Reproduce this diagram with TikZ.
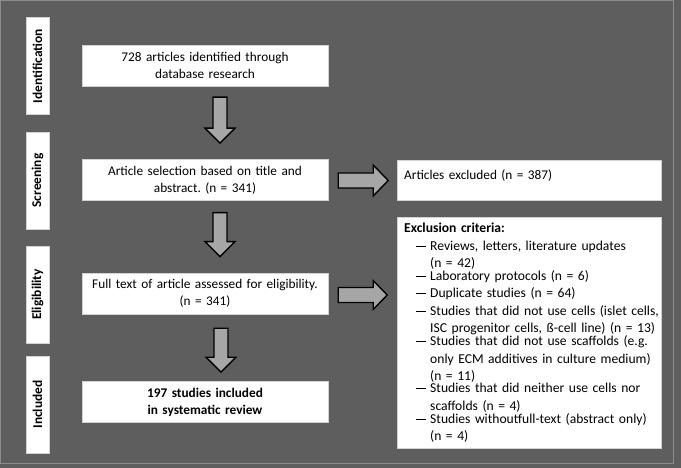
\documentclass[tikz,border=0pt]{standalone}
\usepackage{fontspec}
\setmainfont{Carlito}
\definecolor{bggray}{HTML}{5E5E5E}
\definecolor{arrowgray}{HTML}{A6A6A6}
\definecolor{framegray}{HTML}{8C8C8C}
\tikzset{
  stage/.style={draw=gray!35, fill=white, rotate=90,
    font=\fontsize{13.4}{16}\selectfont\bfseries,
    minimum width=97, minimum height=23, inner sep=0pt},
  stepbox/.style={draw=gray!35, fill=white, align=center, text width=240,
    minimum width=246, minimum height=41, inner sep=0pt},
  sidebox/.style={draw=gray!35, fill=white, align=left, text width=250,
    inner xsep=7, anchor=north west},
  blockarrow/.style={draw=black, fill=arrowgray, line width=1.4pt, line join=miter}
}
\newcommand{\critem}[1]{\par\noindent\hspace*{12pt}\makebox[14pt][l]{\rule[3.6pt]{9.5pt}{0.9pt}}\parbox[t]{236pt}{\raggedright#1}}
\begin{document}
\begin{tikzpicture}[x=1pt, y=-1pt, font=\fontsize{13.3}{17}\selectfont\frenchspacing, text=black]
  \useasboundingbox (0,0) rectangle (681,468);
  \fill[bggray] (0,0) rectangle (681,468);
  \draw[framegray, line width=0.6pt] (0.5,0.5) rectangle (673,463);

  % stages
  \node[stage] (ident) at (37.5,66) {Identification};
  \node[stage] (screen) at (37.5,180.5) {Screening};
  \node[stage] (elig) at (37.5,294.5) {Eligibility};
  \node[stage] (incl) at (37.5,404.5) {Included};

  % flow
  \node[stepbox] (found) at (205,65.5) {728 articles identified through\\database research};
  \node[stepbox] (select) at (205,180) {Article selection based on title and\\abstract. (n = 341)};
  \node[stepbox] (fulltext) at (205,293.5) {Full text of article assessed for eligibility.\\(n = 341)};
  \node[stepbox, font=\fontsize{13.3}{17}\selectfont\bfseries] (included) at (205,402) {197 studies included\\in systematic review};

  % exclusions
  \node[sidebox, minimum width=264, minimum height=40, inner ysep=4,
    text height=15, text depth=17] (excluded) at (397,160) {Articles excluded (n = 387)};
  \node[sidebox, inner ysep=6, font=\fontsize{13.6}{17.4}\selectfont\frenchspacing] (criteria) at (397,217) {%
    \textbf{Exclusion criteria:}
    \critem{Reviews, letters, literature updates\\(n = 42)}
    \critem{Laboratory protocols (n = 6)}
    \critem{Duplicate studies (n = 64)}
    \critem{Studies that did not use cells (islet cells,\\ISC progenitor cells, ß-cell line) (n = 13)}
    \critem{Studies that did not use scaffolds (e.g.\\only ECM additives in culture medium)\\(n = 11)}
    \critem{Studies that did neither use cells nor\\scaffolds (n = 4)}
    \critem{Studies withoutfull-text (abstract only)\\(n = 4)}};

  % arrows
  \draw[blockarrow] ([xshift=15,yshift=-11]found.south) ++(-7,0) -- ++(14,0) -- ++(0,31) -- ++(8,0)
    -- ++(-15,15) -- ++(-15,-15) -- ++(8,0) -- cycle;
  \draw[blockarrow] ([xshift=15,yshift=-12]select.south) ++(-7,0) -- ++(14,0) -- ++(0,29) -- ++(8,0)
    -- ++(-15,15) -- ++(-15,-15) -- ++(8,0) -- cycle;
  \draw[blockarrow] ([xshift=16,yshift=-14]fulltext.south) ++(-7,0) -- ++(14,0) -- ++(0,29) -- ++(8,0)
    -- ++(-15,15) -- ++(-15,-15) -- ++(8,0) -- cycle;
  \draw[blockarrow] ([xshift=10,yshift=-0.5]select.east) ++(0,-7.5) -- ++(35,0) -- ++(0,-8) -- ++(15,15.5)
    -- ++(-15,15.5) -- ++(0,-8) -- ++(-35,0) -- cycle;
  \draw[blockarrow] ([xshift=10,yshift=-1.5]fulltext.east) ++(0,-7.5) -- ++(35,0) -- ++(0,-7) -- ++(14,14.5)
    -- ++(-14,14.5) -- ++(0,-7) -- ++(-35,0) -- cycle;
\end{tikzpicture}
\end{document}
